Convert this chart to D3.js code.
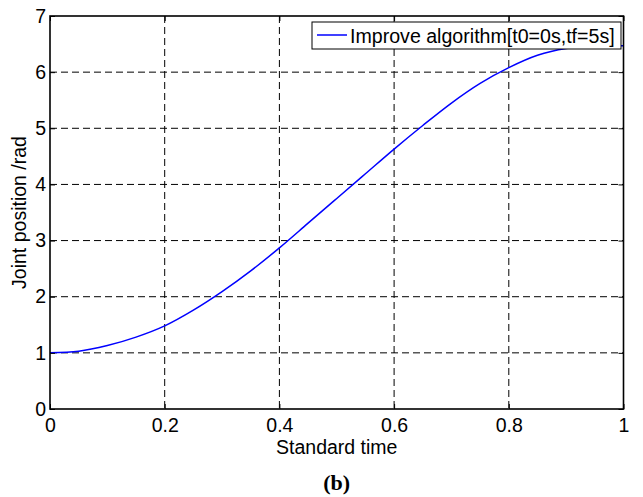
<!DOCTYPE html>
<html>
<head>
<meta charset="utf-8">
<script src="https://cdn.jsdelivr.net/npm/d3@7"></script>
<style>
  body { margin: 0; background: #fff; }
  svg { display: block; }
  text { font-family: "Liberation Sans", Arial, sans-serif; fill: #000; }
</style>
</head>
<body>
<svg id="chart"></svg>
<script>
// values
const timeValues = [0, 0.05, 0.1, 0.15, 0.2, 0.25, 0.3, 0.35, 0.4, 0.45, 0.5,
  0.55, 0.6, 0.65, 0.7, 0.75, 0.8, 0.85, 0.9, 0.95, 1];
const jointValues = [1.0, 1.03, 1.13, 1.28, 1.48, 1.76, 2.09, 2.46, 2.87, 3.31, 3.75,
  4.19, 4.63, 5.05, 5.45, 5.8, 6.08, 6.3, 6.42, 6.46, 6.47];
const xTicks = [0, 0.2, 0.4, 0.6, 0.8, 1];
const yTicks = [0, 1, 2, 3, 4, 5, 6, 7];
const legendLabel = "Improve algorithm[t0=0s,tf=5s]";

const W = 643, H = 497;
const margin = { top: 16, right: 19.5, bottom: 88, left: 50 };
const width = W - margin.left - margin.right;
const height = H - margin.top - margin.bottom;

const svg = d3.select("#chart").attr("width", W).attr("height", H);
const g = svg.append("g").attr("transform", `translate(${margin.left},${margin.top})`);

const x = d3.scaleLinear().domain([0, 1]).range([0, width]);
const y = d3.scaleLinear().domain([0, 7]).range([height, 0]);

// grid
g.append("g").selectAll("line").data(xTicks.slice(1, -1)).join("line")
  .attr("x1", d => x(d)).attr("x2", d => x(d))
  .attr("y1", 0).attr("y2", height)
  .attr("stroke", "#000").attr("stroke-width", 1).attr("stroke-dasharray", "7,4");
g.append("g").selectAll("line").data(yTicks.slice(1, -1)).join("line")
  .attr("y1", d => y(d)).attr("y2", d => y(d))
  .attr("x1", 0).attr("x2", width)
  .attr("stroke", "#000").attr("stroke-width", 1).attr("stroke-dasharray", "7,4");

// curve
const pts = timeValues.map((t, i) => [t, jointValues[i]]);
const line = d3.line().x(d => x(d[0])).y(d => y(d[1])).curve(d3.curveMonotoneX);
g.append("path").datum(pts)
  .attr("fill", "none").attr("stroke", "#0000ff").attr("stroke-width", 1.5)
  .attr("d", line);

// axes with inward ticks on all sides
const fs = 19.5;
const xb = g.append("g").attr("transform", `translate(0,${height})`)
  .call(d3.axisBottom(x).tickValues(xTicks).tickSize(-5).tickPadding(9).tickFormat(d3.format("")));
const yl = g.append("g")
  .call(d3.axisLeft(y).tickValues(yTicks).tickSize(-5).tickPadding(4).tickFormat(d3.format("d")));
const xt = g.append("g")
  .call(d3.axisTop(x).tickValues(xTicks).tickSize(-5).tickFormat(""));
const yr = g.append("g").attr("transform", `translate(${width},0)`)
  .call(d3.axisRight(y).tickValues(yTicks).tickSize(-5).tickFormat(""));
[xb, yl, xt, yr].forEach(a => {
  a.select(".domain").remove();
  a.selectAll("line").attr("stroke", "#000");
  a.selectAll("text").attr("font-size", fs).attr("font-family", "Liberation Sans, Arial, sans-serif");
});

// box
g.append("rect").attr("x", 0).attr("y", 0).attr("width", width).attr("height", height)
  .attr("fill", "none").attr("stroke", "#000").attr("stroke-width", 1.6);

// legend
const lg = svg.append("g");
lg.append("rect").attr("x", 312).attr("y", 22).attr("width", 309).attr("height", 27)
  .attr("fill", "#fff").attr("stroke", "#000").attr("stroke-width", 1);
lg.append("line").attr("x1", 317).attr("x2", 347).attr("y1", 35).attr("y2", 35)
  .attr("stroke", "#0000ff").attr("stroke-width", 1.5);
lg.append("text").attr("x", 350).attr("y", 42.5).attr("font-size", 19.6).text(legendLabel);

// labels
svg.append("text").attr("x", margin.left + width / 2).attr("y", 454)
  .attr("text-anchor", "middle").attr("font-size", fs).text("Standard time");
svg.append("text")
  .attr("transform", `translate(26,${margin.top + height / 2}) rotate(-90)`)
  .attr("text-anchor", "middle").attr("font-size", fs).text("Joint position /rad");
svg.append("text").attr("x", margin.left + width / 2).attr("y", 490)
  .attr("text-anchor", "middle").attr("font-size", 22).attr("font-weight", "bold")
  .style("font-family", "Liberation Serif, Times New Roman, serif").text("(b)");
</script>
</body>
</html>
